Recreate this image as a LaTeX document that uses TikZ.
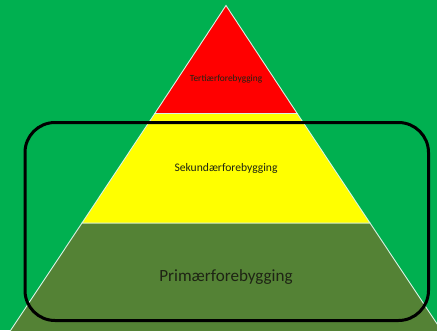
\documentclass[tikz,border=0pt]{standalone}
\usepackage{fontspec}
\setmainfont{Carlito}
\definecolor{bggreen}{HTML}{00B050}
\definecolor{layred}{HTML}{FF0000}
\definecolor{layyellow}{HTML}{FFFF00}
\definecolor{laygreen}{HTML}{548235}
\definecolor{txt}{HTML}{1E2414}
\tikzset{
  layer/.style={draw=white!85!bggreen, line width=0.9pt, line join=miter},
  lbl/.style={text=txt, inner sep=0pt},
  frame/.style={draw=black, line width=3pt, rounded corners=30pt}
}
\begin{document}
\begin{tikzpicture}[x=1pt,y=-1pt]
\fill[bggreen] (0,0) rectangle (437,330);
\useasboundingbox (0,0) rectangle (437,330);
\begin{scope}
\clip (0,0) rectangle (437,330);
\coordinate (apex) at (226,5.5);
\coordinate (rl) at (154.8,113.5);
\coordinate (rr) at (297.2,113.5);
\coordinate (yl) at (82,223);
\coordinate (yr) at (370,223);
\coordinate (gl) at (7.5,335);
\coordinate (gr) at (444.5,335);
\path[layer, fill=laygreen] (yl) -- (yr) -- (gr) -- (gl) -- cycle;
\path[layer, fill=layyellow] (rl) -- (rr) -- (yr) -- (yl) -- cycle;
\path[layer, fill=layred] (apex) -- (rr) -- (rl) -- cycle;
\end{scope}
\node[lbl, font=\fontsize{9.4}{11}\selectfont] (tert) at (226,79) {Tertiærforebygging};
\node[lbl, font=\fontsize{11.6}{13}\selectfont] (sek) at (226,168) {Sekundærforebygging};
\node[lbl, font=\fontsize{17.1}{20}\selectfont] (prim) at (226,277.5) {Primærforebygging};
\draw[frame] (25,122.5) rectangle (428.5,320.5);
\end{tikzpicture}
\end{document}
